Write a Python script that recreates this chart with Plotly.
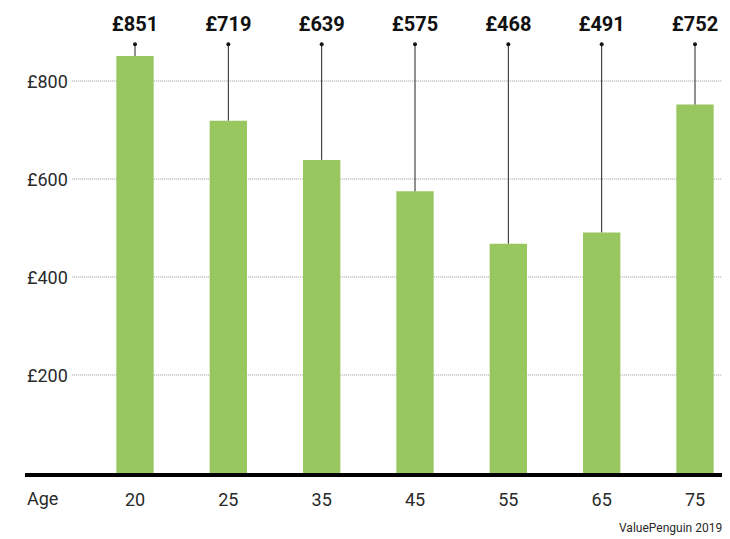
import plotly.graph_objects as go

ages = ["20", "25", "35", "45", "55", "65", "75"]
premiums = [851, 719, 639, 575, 468, 491, 752]
value_labels = ["£851", "£719", "£639", "£575", "£468", "£491", "£752"]
ytick_vals = [200, 400, 600, 800]
ytick_text = ["£200", "£400", "£600", "£800"]

xpos = list(range(len(ages)))
LEADER_TOP = 875
LABEL_Y = 912
FONT = "Roboto"
TXT = "#2a2a2a"

fig = go.Figure()
fig.add_trace(go.Bar(x=xpos, y=premiums, width=0.4, marker=dict(color="#98C760", line=dict(width=0)),
                     hoverinfo="skip"))

lx, ly = [], []
for x, v in zip(xpos, premiums):
    lx += [x, x, None]
    ly += [v, LEADER_TOP, None]
fig.add_trace(go.Scatter(x=lx, y=ly, mode="lines", line=dict(color="#222", width=1), hoverinfo="skip"))
fig.add_trace(go.Scatter(x=xpos, y=[LEADER_TOP] * len(xpos), mode="markers",
                         marker=dict(color="#111", size=4), hoverinfo="skip"))
fig.add_trace(go.Scatter(x=xpos, y=[LABEL_Y] * len(xpos), mode="text", text=value_labels,
                         textfont=dict(family=FONT, size=20, color="#111", weight="bold"),
                         textposition="middle center", hoverinfo="skip"))

for v, t in zip(ytick_vals, ytick_text):
    fig.add_shape(type="line", xref="paper", x0=0.067, x1=1, y0=v, y1=v,
                  line=dict(color="#999", width=1, dash="1px,1px"), layer="below")
    fig.add_annotation(text=t, xref="paper", x=0, y=v, xanchor="left", yanchor="middle",
                       showarrow=False, font=dict(family=FONT, size=18, color=TXT))

# thick baseline
fig.add_shape(type="rect", xref="paper", yref="paper", x0=0, x1=1, ysizemode="pixel",
              yanchor=0, y0=-4, y1=0, fillcolor="#000", line=dict(width=0))

fig.add_annotation(text="Age", xref="paper", yref="paper", x=0, y=0, yshift=-25,
                   xanchor="left", yanchor="middle", showarrow=False,
                   font=dict(family=FONT, size=18, color=TXT))
fig.add_annotation(text="ValuePenguin 2019", xref="paper", yref="paper", x=1, y=0,
                   xshift=-6, yshift=-55, xanchor="right", yanchor="middle", showarrow=False,
                   font=dict(family=FONT, size=12, color=TXT))

fig.update_layout(
    width=722, height=531, showlegend=False,
    margin=dict(l=17, r=0, t=0, b=66),
    plot_bgcolor="white", paper_bgcolor="white",
    xaxis=dict(range=[-1.1786, 6.375], tickvals=xpos, ticktext=ages, showgrid=False,
               zeroline=False, showline=False, ticks="outside", ticklen=10, tickcolor="rgba(0,0,0,0)",
               tickfont=dict(family=FONT, size=18, color=TXT)),
    yaxis=dict(range=[0, 949], showticklabels=False, showgrid=False,
               zeroline=False, showline=False),
)

fig.write_html("out.html")
